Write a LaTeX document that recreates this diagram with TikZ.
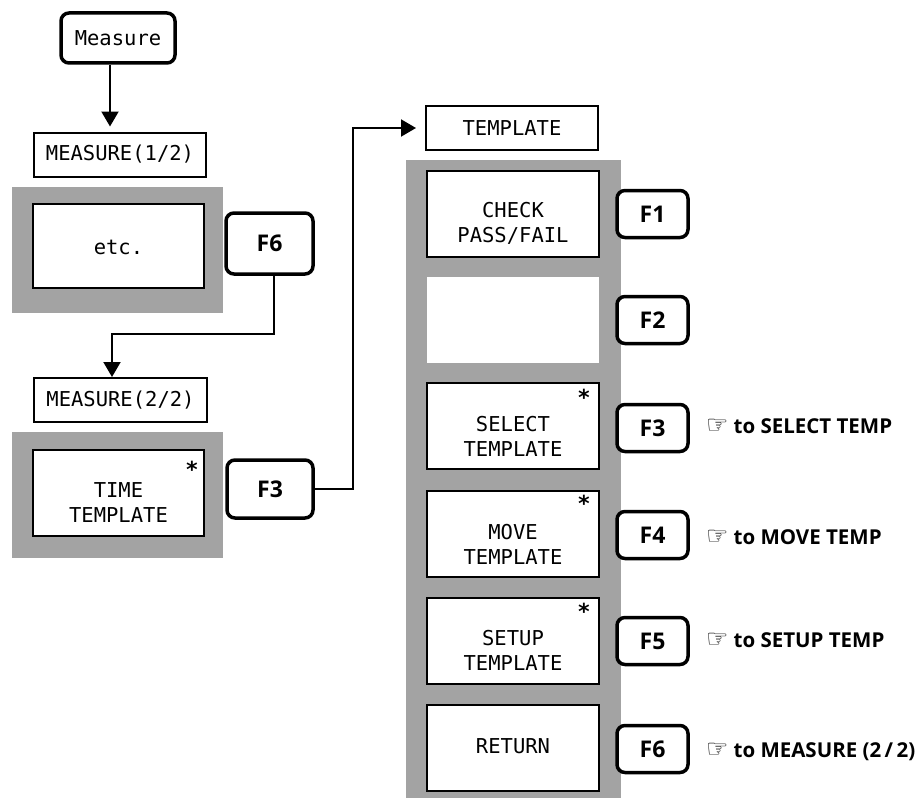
\documentclass[tikz,border=0pt]{standalone}
\usepackage{fontspec}
\usetikzlibrary{arrows.meta,calc}
\newfontfamily\monof{DejaVu Sans Mono}
\newfontfamily\labf{Open Sans}
\newfontfamily\symf{DejaVu Sans}
\begin{document}
\begin{tikzpicture}[x=1pt,y=-1pt,
  shadebg/.style={fill=black!36},
  box/.style={draw, line width=2pt, fill=white, inner sep=0pt, minimum width=172pt, minimum height=86pt},
  blank/.style={fill=white, inner sep=0pt, minimum width=172pt, minimum height=86pt},
  tbox/.style={draw, line width=2pt, fill=white, inner sep=0pt, minimum width=172pt, minimum height=44pt, font=\monof\fontsize{20.5}{25}\selectfont},
  btxt/.style={align=center, inner sep=0pt, font=\monof\fontsize{20.5}{25}\selectfont},
  star/.style={inner sep=0pt, font=\monof\bfseries\fontsize{22}{22}\selectfont},
  fkey/.style={draw, line width=3.5pt, rounded corners=8pt, fill=white, inner sep=0pt, minimum width=71pt, minimum height=47pt, font=\labf\bfseries\fontsize{23}{23}\selectfont},
  hint/.style={anchor=west, inner sep=0pt, font=\labf\bfseries\fontsize{20.5}{22}\selectfont},
  conn/.style={line width=2pt},
  arr/.style={line width=2pt, -{Triangle[length=15pt,width=17pt]}}
]
\useasboundingbox (0,0) rectangle (924,800);
\fill[white] (0,0) rectangle (924,800);

% shaded backgrounds
\fill[shadebg] (12,187) rectangle (223,313);
\fill[shadebg] (12,432) rectangle (223,558);
\fill[shadebg] (406,160) rectangle (621,798);

% left column
\node[fkey, minimum width=114pt, minimum height=50pt, font=\monof\fontsize{20.5}{25}\selectfont] (meas) at (118,38) {Measure};
\node[tbox] (m12) at (120,154.5) {MEASURE(1/2)};
\node[box, minimum width=171pt, minimum height=84pt] (etc) at (118.5,246) {};
\node[btxt] (etct) at (118.5,247) {etc.};
\node[fkey, minimum width=87pt, minimum height=61pt] (f6a) at (269.5,243.5) {F6};

\node[tbox, minimum width=173pt] (m22) at (120.5,400) {MEASURE(2/2)};
\node[box, minimum width=171pt] (time) at (118.5,493) {};
\node[btxt] (timet) at (118.5,502.5) {TIME\\TEMPLATE};
\node[star] (times) at ($(time.north east)+(-13,20)$) {*};
\node[fkey, minimum width=86pt, minimum height=58pt] (f3a) at (270,489) {F3};

% right column
\node[tbox] (tmpl) at (512,128) {TEMPLATE};

\node[box] (chk) at (513,213.5) {};
\node[btxt] (chkt) at (513,223) {CHECK\\PASS/FAIL};
\node[blank] (blk) at (513,319.5) {};
\node[box] (sel) at (513,426) {};
\node[btxt] (selt) at (513,436) {SELECT\\TEMPLATE};
\node[star] (sels) at ($(sel.north east)+(-16,15)$) {*};
\node[box] (mov) at (513,534) {};
\node[btxt] (movt) at (513,544) {MOVE\\TEMPLATE};
\node[star] (movs) at ($(mov.north east)+(-16,13)$) {*};
\node[box] (set) at (513,640.5) {};
\node[btxt] (sett) at (513,650.5) {SETUP\\TEMPLATE};
\node[star] (sets) at ($(set.north east)+(-16,15)$) {*};
\node[box] (ret) at (513,747.5) {};
\node[btxt] (rett) at (513,746) {RETURN};

\node[fkey] (f1) at (652.5,214) {F1};
\node[fkey] (f2) at (652.5,320) {F2};
\node[fkey] (f3) at (652.5,428) {F3};
\node[fkey] (f4) at (652.5,535) {F4};
\node[fkey] (f5) at (652.5,641) {F5};
\node[fkey] (f6) at (652.5,749) {F6};

\node[hint] (h3) at (706,426) {{\symf\fontsize{25}{25}\selectfont ☞}\hspace{5pt}to SELECT TEMP};
\node[hint] (h4) at (706,537) {{\symf\fontsize{25}{25}\selectfont ☞}\hspace{5pt}to MOVE TEMP};
\node[hint] (h5) at (706,640) {{\symf\fontsize{25}{25}\selectfont ☞}\hspace{5pt}to SETUP TEMP};
\node[hint] (h6) at (706,752) {{\symf\fontsize{25}{25}\selectfont ☞}\hspace{5pt}to MEASURE (2\,/\,2)};

% connectors
\draw[arr, shorten >=5pt] ([xshift=-8pt]meas.south) -- ([xshift=-10pt]m12.north);
\draw[arr] ([xshift=4.5pt]f6a.south) |- ($(m22.north)+(-8.5,-43)$) -- ([xshift=-8.5pt]m22.north);
\draw[arr, shorten >=9pt] (f3a.east) -| ($(tmpl.west)+(-72,0)$) -- (tmpl.west);
\end{tikzpicture}
\end{document}
